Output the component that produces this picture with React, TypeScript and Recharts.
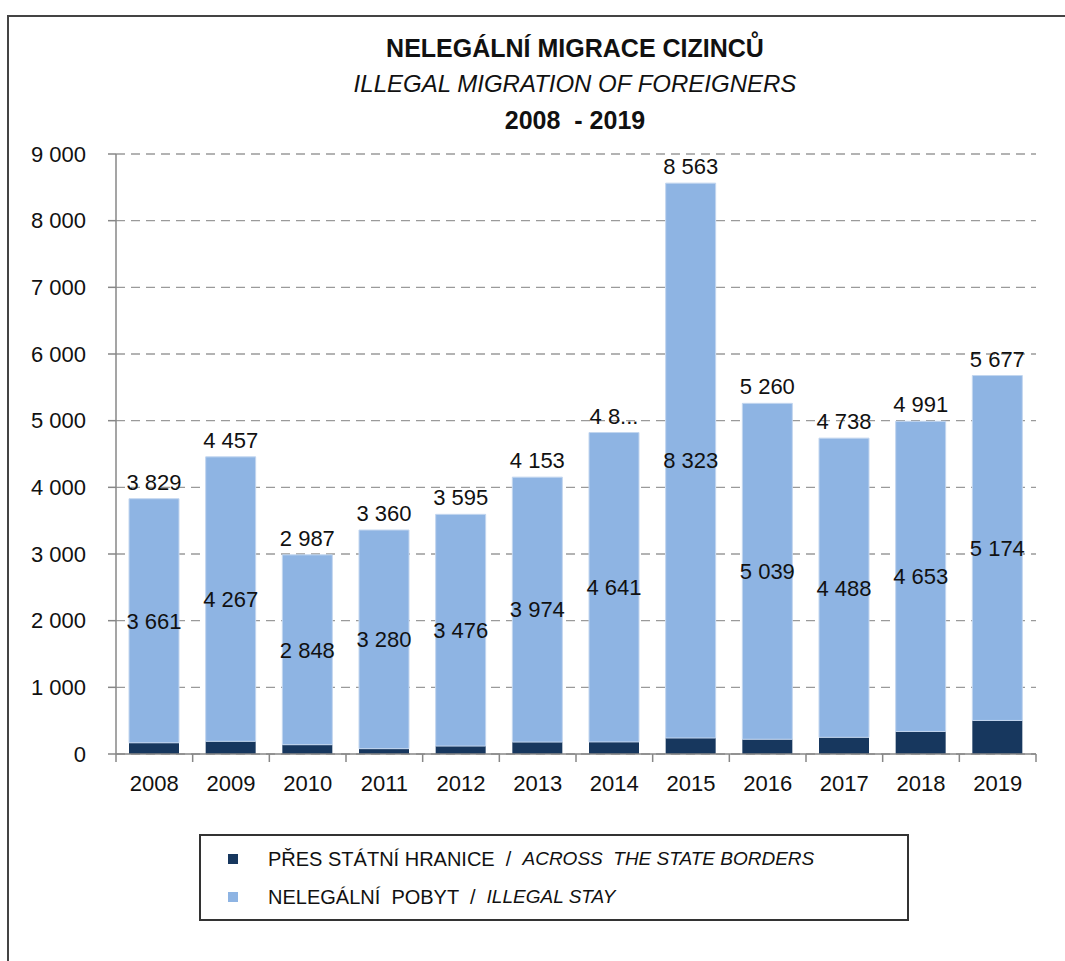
import React from 'react';
import { BarChart, Bar, XAxis, YAxis, CartesianGrid, LabelList } from 'recharts';

const years = ['2008', '2009', '2010', '2011', '2012', '2013', '2014', '2015', '2016', '2017', '2018', '2019'];
const illegalStay = [3661, 4267, 2848, 3280, 3476, 3974, 4641, 8323, 5039, 4488, 4653, 5174];
const acrossBorders = [168, 190, 139, 80, 119, 179, 181, 240, 221, 250, 338, 503];
const totalLabels = ['3 829', '4 457', '2 987', '3 360', '3 595', '4 153', '4 8...', '8 563', '5 260', '4 738', '4 991', '5 677'];
const yTicks = [0, 1000, 2000, 3000, 4000, 5000, 6000, 7000, 8000, 9000];

const DARK = '#17375E';
const LIGHT = '#8EB4E3';
const AXIS = '#878787';
const FONT = '"Liberation Sans Narrow", "Liberation Sans", Arial, sans-serif';

const W = 1065;
const H = 961;
const M_LEFT = 0;
const Y_W = 116;
const M_RIGHT = 29;
const M_TOP = 154;
const X_H = 40;
const M_BOTTOM = 167;
const PLOT_W = W - M_LEFT - Y_W - M_RIGHT;

const data = years.map((y, i) => ({
  year: y,
  border: acrossBorders[i],
  stay: illegalStay[i],
  totalLabel: totalLabels[i],
}));

const fmt = (n: number) => String(n).replace(/\B(?=(\d{3})+(?!\d))/g, ' ');

const XTick = (props: any) => {
  const { x, y, payload, index } = props;
  const half = PLOT_W / years.length / 2;
  const i = payload?.index ?? index;
  return (
    <g>
      <line x1={x - half} x2={x - half} y1={y - 8} y2={y} stroke={AXIS} strokeWidth={1.5} />
      {i === years.length - 1 && (
        <line x1={x + half} x2={x + half} y1={y - 8} y2={y} stroke={AXIS} strokeWidth={1.5} />
      )}
      <text x={x} y={y + 29} textAnchor="middle" fontFamily={FONT} fontSize={22} fill="#111">
        {payload.value}
      </text>
    </g>
  );
};

const TotalLabel = (props: any) => {
  const { x, y, width, value } = props;
  return (
    <text x={x + width / 2} y={y - 9} textAnchor="middle" fontFamily={FONT} fontSize={22} fill="#111">
      {value}
    </text>
  );
};

export default function App() {
  return (
    <div style={{ position: 'absolute', left: 0, top: 0, width: W, height: H, overflow: 'hidden', background: '#fff', fontFamily: FONT }}>
      <div style={{ position: 'absolute', left: 7, top: 15, width: 1200, height: 1200, borderLeft: '2px solid #444', borderTop: '2px solid #444' }} />
      <div style={{ position: 'absolute', left: 0, width: 1150, top: 30, textAlign: 'center', fontSize: 25, fontWeight: 'bold', color: '#111', lineHeight: '36px' }}>
        NELEGÁLNÍ MIGRACE CIZINCŮ
      </div>
      <div style={{ position: 'absolute', left: 0, width: 1150, top: 66, textAlign: 'center', fontSize: 24, fontStyle: 'italic', color: '#111', lineHeight: '36px' }}>
        ILLEGAL MIGRATION OF FOREIGNERS
      </div>
      <div style={{ position: 'absolute', left: 0, width: 1150, top: 102, textAlign: 'center', fontSize: 25, fontWeight: 'bold', color: '#111', lineHeight: '36px', whiteSpace: 'pre' }}>
        {'2008  - 2019'}
      </div>
      <div style={{ position: 'absolute', left: 0, top: 0 }}>
        <BarChart
          width={W}
          height={H}
          data={data}
          margin={{ top: M_TOP, right: M_RIGHT, left: M_LEFT, bottom: M_BOTTOM }}
          barSize={50}
        >
          <CartesianGrid horizontal vertical={false} stroke="#9a9a9a" strokeDasharray="9 6" strokeWidth={1.3} />
          <YAxis
            width={Y_W}
            domain={[0, 9000]}
            ticks={yTicks}
            interval={0}
            tickFormatter={fmt}
            tick={{ fontFamily: FONT, fontSize: 22, fill: '#111' }}
            tickSize={8}
            tickMargin={22}
            axisLine={{ stroke: AXIS, strokeWidth: 1.5 }}
            tickLine={{ stroke: AXIS, strokeWidth: 1.5 }}
          />
          <XAxis
            dataKey="year"
            height={X_H}
            interval={0}
            tickLine={false}
            axisLine={{ stroke: AXIS, strokeWidth: 1.5 }}
            tick={<XTick />}
          />
          <Bar dataKey="border" stackId="a" fill={DARK} isAnimationActive={false} />
          <Bar dataKey="stay" stackId="a" fill={LIGHT} stroke="#c3d6ef" strokeWidth={1} isAnimationActive={false}>
            <LabelList dataKey="stay" position="center" formatter={(v: any) => fmt(Number(v))} style={{ fontFamily: FONT, fontSize: 22, fill: '#111' }} />
            <LabelList dataKey="totalLabel" content={<TotalLabel />} />
          </Bar>
        </BarChart>
      </div>
      <div style={{ position: 'absolute', left: 199, top: 834, width: 706, height: 83, border: '2px solid #333', background: '#fff' }}>
        <div style={{ position: 'absolute', left: 27, top: 11, height: 24, display: 'flex', alignItems: 'center', fontSize: 20, color: '#111', whiteSpace: 'pre' }}>
          <span style={{ display: 'inline-block', width: 10, height: 10, background: DARK, marginRight: 30 }} />
          <span>{'PŘES STÁTNÍ HRANICE  /  '}</span>
          <span style={{ fontStyle: 'italic', fontSize: 19 }}>{'ACROSS  THE STATE BORDERS'}</span>
        </div>
        <div style={{ position: 'absolute', left: 27, top: 49, height: 24, display: 'flex', alignItems: 'center', fontSize: 20, color: '#111', whiteSpace: 'pre' }}>
          <span style={{ display: 'inline-block', width: 10, height: 10, background: LIGHT, marginRight: 30 }} />
          <span>{'NELEGÁLNÍ  POBYT  /  '}</span>
          <span style={{ fontStyle: 'italic', fontSize: 19 }}>{'ILLEGAL STAY'}</span>
        </div>
      </div>
    </div>
  );
}
